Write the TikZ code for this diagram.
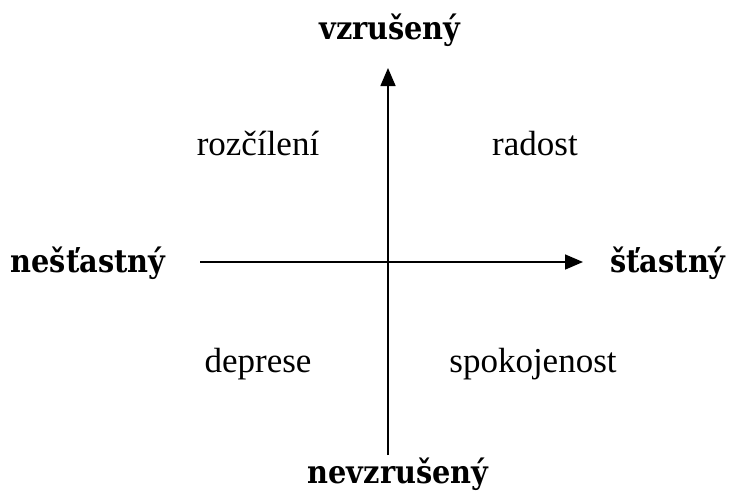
\documentclass[tikz,border=0pt]{standalone}
\usepackage{fontspec}
\setmainfont{Liberation Serif}
\newfontfamily\polefont{DejaVu Serif Condensed}
\usetikzlibrary{arrows.meta}
\tikzset{
  axis/.style={line width=1.6pt, -{Triangle[length=18pt,width=15pt]}},
  pole/.style={font=\polefont\fontsize{32}{36}\selectfont\bfseries, anchor=base, inner sep=0pt},
  emo/.style={font=\fontsize{35}{38}\selectfont, anchor=base, inner sep=0pt}
}
\begin{document}
\begin{tikzpicture}[x=1pt,y=-1pt]
\useasboundingbox (0,0) rectangle (741,498);
\coordinate (vb) at (388,455);
\coordinate (vt) at (388,68);
\coordinate (hl) at (200,262);
\coordinate (hr) at (583,262);
\draw[axis] (vb) -- (vt);
\draw[axis] (hl) -- (hr);
\node[pole] (up) at (390,39) {vzrušený};
\node[pole] (down) at (398,483) {nevzrušený};
\node[pole] (left) at (88,272) {nešťastný};
\node[pole] (right) at (668,272) {šťastný};
\node[emo] (q2) at (258,155) {rozčílení};
\node[emo] (q1) at (535,155) {radost};
\node[emo] (q3) at (258,372) {deprese};
\node[emo] (q4) at (533,372) {spokojenost};
\end{tikzpicture}
\end{document}
